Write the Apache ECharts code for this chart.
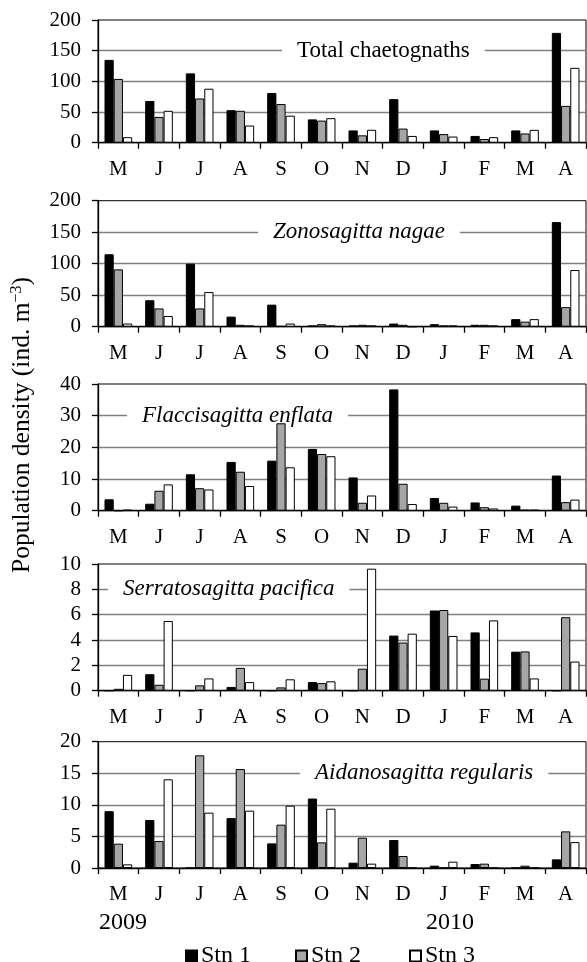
<!DOCTYPE html>
<html lang="en">
<head>
  <meta charset="UTF-8">
  <script src="https://cdn.jsdelivr.net/npm/echarts@6/dist/echarts.min.js"></script>
  <style>
    html, body { margin: 0; padding: 0; background: #fff; }
    #main { width: 587px; height: 962px; }
  </style>
</head>
<body>
<div id="main"></div>
<script>
  // months May 2009 - Apr 2010
  var months = ['M', 'J', 'J', 'A', 'S', 'O', 'N', 'D', 'J', 'F', 'M', 'A'];
  var stations = ['Stn 1', 'Stn 2', 'Stn 3'];

  // Total chaetognaths
  var total1 = [135, 68, 113, 53, 81, 38, 20, 71, 20, 11, 20, 179];
  var total2 = [104, 42, 72, 52, 63, 36, 12, 23, 14, 6, 15, 60];
  var total3 = [9, 52, 88, 28, 44, 40, 21, 11, 10, 9, 21, 122];
  // Zonosagitta nagae
  var zono1 = [115, 42, 100, 16, 35, 2, 2, 5, 4, 3, 12, 166];
  var zono2 = [91, 29, 29, 3, 1, 4, 3, 3, 2, 3, 8, 31];
  var zono3 = [5, 17, 55, 2, 5, 2, 2, 0, 2, 2, 12, 90];
  // Flaccisagitta enflata
  var flac1 = [3.6, 2.2, 11.5, 15.4, 15.8, 19.5, 10.5, 38.3, 4.0, 2.6, 1.6, 11.1];
  var flac2 = [0, 6.3, 7.1, 12.3, 27.6, 17.9, 2.5, 8.5, 2.5, 1.1, 0.3, 2.7];
  var flac3 = [0.3, 8.3, 6.7, 7.8, 13.7, 17.2, 4.8, 2.1, 1.3, 0.7, 0.3, 3.5];
  // Serratosagitta pacifica
  var serr1 = [0, 1.3, 0, 0.3, 0, 0.68, 0, 4.35, 6.33, 4.6, 3.08, 0];
  var serr2 = [0.15, 0.47, 0.42, 1.8, 0.26, 0.6, 1.74, 3.8, 6.37, 0.95, 3.1, 5.8];
  var serr3 = [1.25, 5.5, 0.97, 0.68, 0.9, 0.74, 9.63, 4.5, 4.32, 5.55, 0.97, 2.3];
  // Aidanosagitta regularis
  var aida1 = [9.0, 7.6, 0, 7.9, 3.9, 11.0, 0.84, 4.43, 0.37, 0.63, 0, 1.37];
  var aida2 = [3.85, 4.27, 17.84, 15.67, 6.86, 4.06, 4.8, 1.9, 0, 0.69, 0.37, 5.8];
  var aida3 = [0.58, 14.04, 8.76, 9.08, 9.87, 9.39, 0.69, 0, 1.0, 0, 0, 4.1];

  var panelNames = ['Total chaetognaths', 'Zonosagitta nagae', 'Flaccisagitta enflata',
    'Serratosagitta pacifica', 'Aidanosagitta regularis'];
  var panelData = [[total1, total2, total3], [zono1, zono2, zono3], [flac1, flac2, flac3],
    [serr1, serr2, serr3], [aida1, aida2, aida3]];
  var yMax = [200, 200, 40, 10, 20];
  var yStep = [50, 50, 10, 2, 5];

  var font = '"Liberation Serif", "Times New Roman", serif';
  var fills = ['#000000', '#a6a6a6', '#ffffff'];

  // layout of each panel
  var gridTop = [20, 200.7, 384, 564, 741.7];
  var gridH = [122.7, 126, 126.7, 126.7, 126.3];
  var titleLeft = [282, 258, 127, 108, 300];
  var titleTop = [38.7, 220, 403.7, 577.3, 761.3];

  var grids = [], xAxes = [], yAxes = [], titles = [], series = [];
  for (var p = 0; p < 5; p++) {
    grids.push({
      left: 98, right: 1, top: gridTop[p], height: gridH[p],
      show: true, borderColor: '#000', borderWidth: 1, backgroundColor: 'transparent'
    });
    xAxes.push({
      type: 'category', gridIndex: p, data: months,
      axisLine: { lineStyle: { color: '#000', width: 1.3 } },
      axisTick: { show: true, length: 6, interval: 0, lineStyle: { color: '#000', width: 1.3 } },
      axisLabel: { interval: 0, margin: 16, color: '#000', fontFamily: font, fontSize: 21 },
      splitLine: { show: false }
    });
    yAxes.push({
      type: 'value', gridIndex: p, min: 0, max: yMax[p], interval: yStep[p],
      axisLine: { show: true, lineStyle: { color: '#000', width: 1.3 } },
      axisTick: { show: true, length: 6, lineStyle: { color: '#000', width: 1.3 } },
      axisLabel: { margin: 17, color: '#000', fontFamily: font, fontSize: 21 },
      splitLine: { show: true, showMinLine: false, showMaxLine: false,
        lineStyle: { color: '#808080', width: 1.3 } }
    });
    // white box behind the name cuts the grid line, bars stay on top
    titles.push({
      text: panelNames[p], left: titleLeft[p], top: titleTop[p], z: 1,
      padding: [0, 15], backgroundColor: '#fff',
      textStyle: { fontFamily: font, fontSize: 23, fontWeight: 'normal', color: '#000',
        fontStyle: p === 0 ? 'normal' : 'italic', lineHeight: 24 }
    });
    for (var s = 0; s < 3; s++) {
      series.push({
        name: stations[s], type: 'bar', xAxisIndex: p, yAxisIndex: p,
        data: panelData[p][s], barGap: '0%', barCategoryGap: '32%', z: 3,
        itemStyle: { color: fills[s], borderColor: '#000', borderWidth: 1 }
      });
    }
  }

  var legendBase = {
    top: 939, itemWidth: 11, itemHeight: 11, icon: 'rect', selectedMode: false,
    textStyle: { fontFamily: font, fontSize: 24, color: '#000', padding: [0, 0, 0, -1] }
  };
  var legendLeft = [180, 290, 404];
  var legends = stations.map(function (n, i) {
    return Object.assign({}, legendBase, { left: legendLeft[i], data: [n] });
  });

  var option = {
    backgroundColor: '#fff',
    animation: false,
    title: titles,
    grid: grids,
    xAxis: xAxes,
    yAxis: yAxes,
    legend: legends,
    series: series,
    graphic: [
      {
        type: 'text', x: 22, y: 425, rotation: Math.PI / 2,
        style: {
          text: 'Population density (ind. m{sup|\u22123})',
          align: 'center', verticalAlign: 'middle',
          fontFamily: font, fontSize: 25.5, fill: '#000',
          rich: { sup: { fontFamily: font, fontSize: 16, padding: [0, 0, 10, 0] } }
        }
      },
      { type: 'text', x: 123, y: 923,
        style: { text: '2009', align: 'center', verticalAlign: 'middle', fontFamily: font, fontSize: 24, fill: '#000' } },
      { type: 'text', x: 450, y: 923,
        style: { text: '2010', align: 'center', verticalAlign: 'middle', fontFamily: font, fontSize: 24, fill: '#000' } }
    ]
  };

  var chart = echarts.init(document.getElementById('main'));
  chart.setOption(option);
</script>
</body>
</html>
